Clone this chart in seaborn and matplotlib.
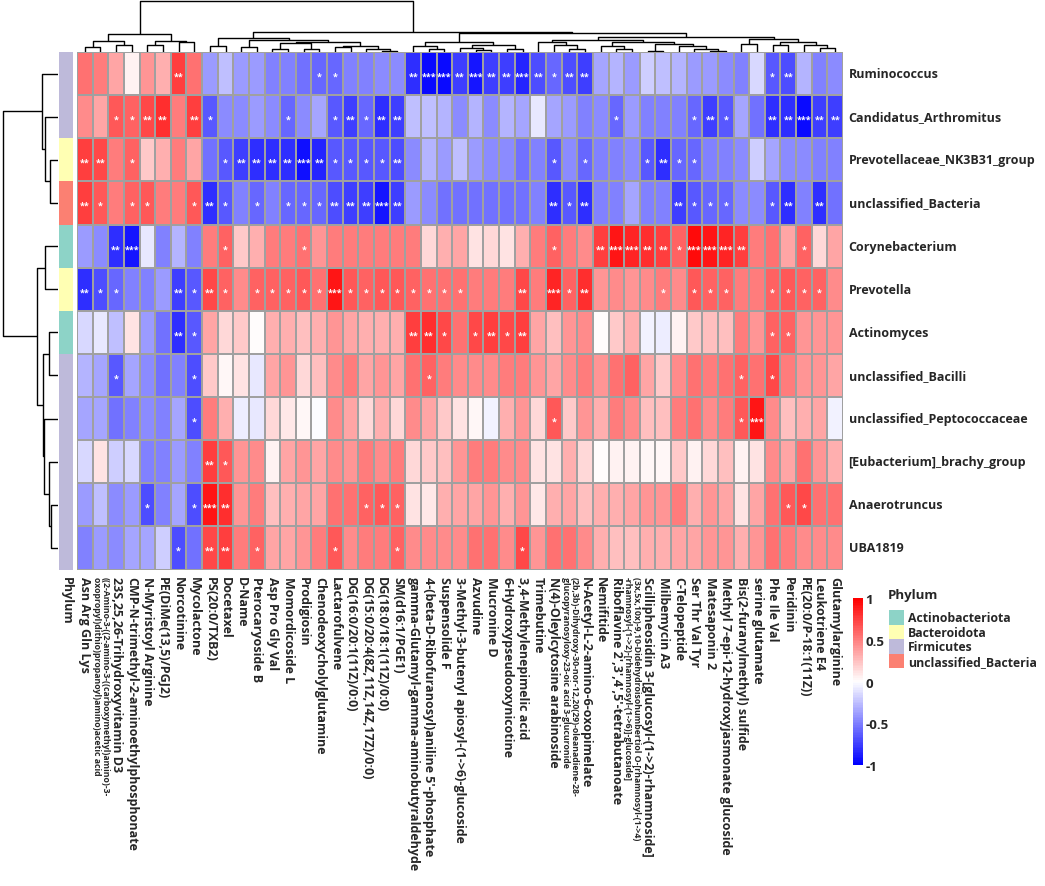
import numpy as np
import pandas as pd
import matplotlib
matplotlib.use("Agg")
import matplotlib.pyplot as plt
from matplotlib.colors import LinearSegmentedColormap, ListedColormap
from matplotlib.patches import Patch
import seaborn as sns

# -----------------------------
# DATA
# -----------------------------
row_names = ["Ruminococcus", "Candidatus_Arthromitus", "Prevotellaceae_NK3B31_group",
             "unclassified_Bacteria", "Corynebacterium", "Prevotella", "Actinomyces",
             "unclassified_Bacilli", "unclassified_Peptococcaceae",
             "[Eubacterium]_brachy_group", "Anaerotruncus", "UBA1819"]

col_names = [
    "Asn Arg Gln Lys",
    "((2-Amino-3-((2-amino-3-((carboxymethyl)amino)-3-\noxopropyl)dithio)propanoyl)amino)acetic acid",
    "23S,25,26-Trihydroxyvitamin D3",
    "CMP-N-trimethyl-2-aminoethylphosphonate",
    "N-Myristoyl Arginine",
    "PE(DiMe(13,5)/PGJ2)",
    "Norcotinine",
    "Mycolactone",
    "PS(20:0/TXB2)",
    "Docetaxel",
    "D-Name",
    "Pterocaryoside B",
    "Asp Pro Gly Val",
    "Momordicoside L",
    "Prodigiosin",
    "Chenodeoxycholylglutamine",
    "Lactarofulvene",
    "DG(16:0/20:1(11Z)/0:0)",
    "DG(15:0/20:4(8Z,11Z,14Z,17Z)/0:0)",
    "DG(18:0/18:1(11Z)/0:0)",
    "SM(d16:1/PGE1)",
    "gamma-Glutamyl-gamma-aminobutyraldehyde",
    "4-(beta-D-Ribofuranosyl)aniline 5'-phosphate",
    "Suspensolide F",
    "3-Methyl-3-butenyl apiosyl-(1->6)-glucoside",
    "Azvudine",
    "Mucronine D",
    "6-Hydroxypseudooxynicotine",
    "3,4-Methylenepimelic acid",
    "Trimebutine",
    "N(4)-Oleylcytosine arabinoside",
    "(2b,3b)-Dihydroxy-30-nor-12,20(29)-oleanadiene-28-\nglucopyranosyloxy-23-oic acid 3-glucuronide",
    "N-Acetyl-L-2-amino-6-oxopimelate",
    "Nemifitide",
    "Riboflavine 2',3',4',5'-tetrabutanoate",
    "(3x,5x,10x)-9,10-Didehydroisohumbertiol O-[rhamnosyl-(1->4)\n-rhamnosyl-(1->2)-[rhamnosyl-(1->6)]-glucoside]",
    "Scillipheosidin 3-[glucosyl-(1->2)-rhamnoside]",
    "Milbemycin A3",
    "C-Telopeptide",
    "Ser Thr Val Tyr",
    "Matesaponin 2",
    "Methyl 7-epi-12-hydroxyjasmonate glucoside",
    "Bis(2-furanylmethyl) sulfide",
    "serine glutamate",
    "Phe Ile Val",
    "Peridinin",
    "PE(20:0/P-18:1(11Z))",
    "Leukotriene E4",
    "Glutamylarginine",
]
small_labels = [1, 31, 35]

# correlation values, one list per genus (49 metabolites each)
ruminococcus = [0.55, 0.5, 0.35, 0.05, 0.4, 0.3, 0.75, 0.55,
                -0.4, -0.25, -0.4, -0.4, -0.5, -0.5, -0.55, -0.6, -0.6, -0.5, -0.5, -0.45, -0.45,
                -0.8, -0.95, -0.95, -0.75, -0.9, -0.75, -0.75, -0.85, -0.7, -0.6, -0.7, -0.75,
                -0.35, -0.3, -0.4, -0.2, -0.25, -0.3, -0.4, -0.4, -0.45, -0.5, -0.15, -0.65, -0.7, -0.3, -0.5, -0.45]
candidatus = [0.45, 0.35, 0.65, 0.6, 0.7, 0.8, 0.5, 0.75,
              -0.65, -0.45, -0.45, -0.4, -0.45, -0.6, -0.45, -0.35, -0.65, -0.75, -0.6, -0.8, -0.75,
              -0.25, -0.25, -0.3, -0.45, -0.3, -0.45, -0.3, -0.35, -0.1, -0.35, -0.4, -0.5,
              -0.45, -0.6, -0.4, -0.5, -0.5, -0.5, -0.6, -0.75, -0.65, -0.35, -0.55, -0.8, -0.8, -0.95, -0.75, -0.75]
prevotellaceae = [0.75, 0.7, 0.5, 0.6, 0.2, 0.3, 0.5, 0.35,
                  -0.55, -0.65, -0.75, -0.8, -0.8, -0.8, -0.92, -0.85, -0.65, -0.65, -0.65, -0.65, -0.7,
                  -0.45, -0.3, -0.4, -0.25, -0.4, -0.45, -0.45, -0.55, -0.5, -0.65, -0.45, -0.6,
                  -0.5, -0.5, -0.45, -0.65, -0.8, -0.6, -0.6, -0.5, -0.5, -0.45, -0.2, -0.35, -0.45, -0.45, -0.5, -0.5]
uncl_bacteria = [0.75, 0.65, 0.5, 0.6, 0.65, 0.5, 0.5, 0.65,
                 -0.8, -0.65, -0.5, -0.6, -0.5, -0.6, -0.6, -0.6, -0.7, -0.75, -0.75, -0.9, -0.75,
                 -0.4, -0.45, -0.55, -0.55, -0.55, -0.55, -0.55, -0.55, -0.5, -0.8, -0.65, -0.8,
                 -0.5, -0.5, -0.35, -0.5, -0.5, -0.75, -0.65, -0.6, -0.6, -0.45, -0.45, -0.65, -0.8, -0.5, -0.8, -0.55]
corynebacterium = [-0.4, -0.45, -0.8, -0.9, -0.1, -0.5, -0.3, -0.5,
                   0.5, 0.6, 0.2, 0.3, 0.5, 0.5, 0.55, 0.4, 0.5, 0.5, 0.5, 0.5, 0.5,
                   0.5, 0.15, 0.3, 0.35, 0.1, 0.15, 0.1, 0.3, 0.5, 0.6, 0.5, 0.45,
                   0.75, 0.9, 0.85, 0.8, 0.75, 0.6, 0.95, 0.9, 0.85, 0.75, 0.5, 0.55, 0.35, 0.6, 0.15, 0.35]
prevotella = [-0.8, -0.7, -0.6, -0.5, -0.5, -0.4, -0.75, -0.65,
              0.7, 0.6, 0.45, 0.6, 0.6, 0.6, 0.65, 0.55, 0.9, 0.65, 0.6, 0.65, 0.65,
              0.6, 0.55, 0.55, 0.55, 0.5, 0.5, 0.5, 0.7, 0.5, 0.85, 0.6, 0.8,
              0.4, 0.45, 0.4, 0.45, 0.5, 0.45, 0.65, 0.6, 0.6, 0.5, 0.5, 0.6, 0.65, 0.6, 0.6, 0.45]
actinomyces = [-0.15, -0.1, -0.25, 0.1, -0.4, -0.55, -0.8, -0.65,
               0.35, 0.15, 0.2, 0.0, 0.3, 0.3, 0.25, 0.3, 0.4, 0.35, 0.3, 0.3, 0.3,
               0.75, 0.8, 0.7, 0.55, 0.7, 0.75, 0.7, 0.75, 0.35, 0.25, 0.4, 0.45,
               0.0, 0.2, 0.3, -0.05, -0.08, 0.05, 0.2, 0.25, 0.25, 0.5, 0.4, 0.6, 0.6, 0.4, 0.4, 0.4]
uncl_bacilli = [-0.3, -0.35, -0.65, -0.35, -0.45, -0.55, -0.5, -0.7,
                0.2, 0.03, 0.1, -0.1, 0.35, 0.4, 0.15, 0.25, 0.45, 0.5, 0.35, 0.4, 0.35,
                0.55, 0.6, 0.5, 0.45, 0.45, 0.45, 0.5, 0.5, 0.4, 0.35, 0.45, 0.5,
                0.4, 0.55, 0.6, 0.35, 0.2, 0.45, 0.55, 0.5, 0.55, 0.6, 0.55, 0.7, 0.5, 0.4, 0.4, 0.35]
uncl_peptococcaceae = [-0.35, -0.35, -0.55, -0.5, -0.45, -0.5, -0.35, -0.7,
                       0.5, 0.3, -0.08, -0.1, 0.15, 0.08, 0.02, -0.02, 0.45, 0.35, 0.15, 0.3, 0.15,
                       0.45, 0.35, 0.2, 0.1, 0.02, -0.05, 0.3, 0.4, 0.15, 0.65, 0.2, 0.4,
                       0.3, 0.5, 0.45, 0.25, 0.25, 0.5, 0.55, 0.45, 0.5, 0.65, 0.9, 0.45, 0.25, 0.3, 0.35, -0.05]
eubacterium = [-0.15, 0.1, -0.2, -0.15, -0.5, -0.5, -0.4, -0.5,
               0.75, 0.65, 0.4, 0.45, 0.05, 0.35, 0.4, 0.35, 0.45, 0.4, 0.5, 0.45, 0.5,
               0.15, 0.2, 0.25, 0.4, 0.5, 0.5, 0.45, 0.45, 0.1, 0.1, 0.3, 0.15,
               0.0, 0.05, 0.05, 0.03, 0.02, 0.2, 0.05, 0.15, 0.25, 0.05, 0.1, 0.45, 0.35, 0.55, 0.4, 0.3]
anaerotruncus = [-0.4, -0.25, -0.45, -0.4, -0.7, -0.5, -0.35, -0.7,
                 0.9, 0.8, 0.4, 0.5, 0.25, 0.3, 0.35, 0.35, 0.55, 0.55, 0.6, 0.65, 0.6,
                 0.1, 0.08, 0.3, 0.35, 0.35, 0.4, 0.3, 0.4, 0.08, 0.3, 0.35, 0.25,
                 0.3, 0.3, 0.35, 0.4, 0.4, 0.5, 0.3, 0.4, 0.35, 0.1, 0.35, 0.55, 0.65, 0.7, 0.55, 0.55]
uba1819 = [-0.5, -0.4, -0.45, -0.35, -0.35, -0.2, -0.7, -0.55,
           0.7, 0.75, 0.5, 0.6, 0.35, 0.35, 0.4, 0.5, 0.65, 0.45, 0.5, 0.5, 0.6,
           0.45, 0.45, 0.45, 0.45, 0.55, 0.55, 0.45, 0.7, 0.4, 0.55, 0.55, 0.45,
           0.3, 0.25, 0.25, 0.3, 0.3, 0.35, 0.35, 0.4, 0.4, 0.3, 0.4, 0.55, 0.5, 0.45, 0.45, 0.45]

# significance level per cell (column index -> number of stars)
ruminococcus_sig = {6: 2, 15: 1, 16: 1, 21: 2, 22: 3, 23: 3, 24: 2, 25: 3, 26: 2, 27: 2, 28: 3,
                    29: 2, 30: 1, 31: 2, 32: 2, 44: 1, 45: 2}
candidatus_sig = {2: 1, 3: 1, 4: 2, 5: 2, 7: 2, 8: 1, 13: 1, 16: 1, 17: 2, 18: 1, 19: 2, 20: 2,
                  34: 1, 39: 1, 40: 2, 41: 1, 44: 2, 45: 2, 46: 3, 47: 2, 48: 2}
prevotellaceae_sig = {0: 2, 1: 2, 3: 1, 9: 1, 10: 2, 11: 2, 12: 2, 13: 2, 14: 3, 15: 2, 16: 1,
                      17: 1, 18: 1, 19: 1, 20: 2, 30: 1, 32: 1, 36: 1, 37: 2, 38: 1, 39: 1}
uncl_bacteria_sig = {0: 2, 1: 1, 3: 1, 4: 1, 7: 1, 8: 2, 9: 1, 11: 1, 13: 1, 14: 1, 15: 1, 16: 2,
                     17: 2, 18: 2, 19: 3, 20: 2, 30: 2, 31: 1, 32: 2, 38: 2, 39: 1, 40: 1, 41: 1,
                     44: 1, 45: 2, 47: 2}
corynebacterium_sig = {2: 2, 3: 3, 9: 1, 14: 1, 30: 1, 33: 2, 34: 3, 35: 3, 36: 2, 37: 2, 38: 1,
                       39: 3, 40: 3, 41: 3, 42: 2, 46: 1}
prevotella_sig = {0: 2, 1: 1, 2: 1, 6: 2, 7: 1, 8: 2, 9: 1, 11: 1, 12: 1, 13: 1, 14: 1, 15: 1,
                  16: 3, 17: 1, 18: 1, 19: 1, 20: 1, 21: 1, 22: 1, 23: 1, 24: 1, 28: 2, 30: 3,
                  31: 1, 32: 2, 37: 1, 39: 1, 40: 1, 41: 1, 44: 1, 45: 1, 46: 1, 47: 1}
actinomyces_sig = {6: 2, 7: 1, 21: 2, 22: 2, 23: 1, 25: 1, 26: 2, 27: 1, 28: 2, 44: 1, 45: 1}
uncl_bacilli_sig = {2: 1, 7: 1, 22: 1, 42: 1, 44: 1}
uncl_peptococcaceae_sig = {7: 1, 30: 1, 42: 1, 43: 3}
eubacterium_sig = {8: 2, 9: 1}
anaerotruncus_sig = {4: 1, 7: 1, 8: 3, 9: 2, 18: 1, 19: 1, 20: 1, 45: 1, 46: 1}
uba1819_sig = {6: 1, 8: 2, 9: 2, 11: 1, 16: 1, 20: 1, 28: 1}

row_phylum = ["Firmicutes", "Firmicutes", "Bacteroidota", "unclassified_Bacteria",
              "Actinobacteriota", "Bacteroidota", "Actinobacteriota", "Firmicutes",
              "Firmicutes", "Firmicutes", "Firmicutes", "Firmicutes"]
phylum_levels = ["Actinobacteriota", "Bacteroidota", "Firmicutes", "unclassified_Bacteria"]
phylum_colors = ["#8DD3C7", "#FFFFB3", "#BEBADA", "#FB8072"]

# dendrograms as [merge height, left, right]; leaves are row/column indices
row_tree = [55.3,
            [16, 0, [13, 1, [8, 2, 3]]],
            [21, [13, 4, 5], [15, [8.7, 6, 7], [13.7, 8, [9, 9, [7, 10, 11]]]]]]
col_tree = [50.7,
            [18, [10.7, [5.3, 0, 1], [7.3, 2, 3]], [11.3, [7.3, 4, 5], [9.7, 6, 7]]],
            [20,
             [14, [6.3, 8, 9],
              [12.3, [5, 10, 11],
               [10.5, [9, [3, 12, 13], [3, 14, 15]],
                [6.5, [5.5, 16, 17], [3, 18, [1.5, 19, 20]]]]]],
             [19,
              [10, [5.7, 21, [3.3, 22, 23]], [6.7, [4.5, 24, [2.5, 25, 26]], [3.5, 27, 28]]],
              [15.5,
               [12.3, [10, 29, [7, 30, [3.5, 31, 32]]],
                [9.7, [6, 33, [3, 34, 35]],
                 [8.5, [1.5, 36, 37], [6.5, 38, [3, 39, [1.5, 40, 41]]]]]],
               [13.5, [8, 42, 43], [9.7, [7, 44, 45], [7, 46, [4.5, 47, 48]]]]]]]]

# -----------------------------
# SETUP
# -----------------------------
sns.set_style("white")
plt.rcParams["font.family"] = ["Open Sans", "DejaVu Sans"]
plt.rcParams["font.weight"] = "bold"

values = [ruminococcus, candidatus, prevotellaceae, uncl_bacteria, corynebacterium, prevotella,
          actinomyces, uncl_bacilli, uncl_peptococcaceae, eubacterium, anaerotruncus, uba1819]
sigs = [ruminococcus_sig, candidatus_sig, prevotellaceae_sig, uncl_bacteria_sig,
        corynebacterium_sig, prevotella_sig, actinomyces_sig, uncl_bacilli_sig,
        uncl_peptococcaceae_sig, eubacterium_sig, anaerotruncus_sig, uba1819_sig]

df = pd.DataFrame(values, index=row_names, columns=col_names)
annot = np.array([["*" * s.get(j, 0) for j in range(len(col_names))] for s in sigs])

W, H = 1045, 887
fig = plt.figure(figsize=(W / 100, H / 100), dpi=100)


def box(x0, y0, x1, y1):
    return [x0 / W, 1 - y1 / H, (x1 - x0) / W, (y1 - y0) / H]


ax_hm = fig.add_axes(box(77, 53, 843, 570.5))
ax_col = fig.add_axes(box(77, 0, 843, 53))
ax_row = fig.add_axes(box(0, 53, 58, 570.5))
ax_phy = fig.add_axes(box(59, 53, 73, 570.5))
ax_cb = fig.add_axes(box(852.5, 599, 862.5, 766))

# -----------------------------
# HEATMAP
# -----------------------------
cmap = LinearSegmentedColormap.from_list("bwr3", ["#0000FF", "#FFFFFF", "#FF0000"], N=100)
sns.heatmap(df, ax=ax_hm, cmap=cmap, vmin=-1, vmax=1, linewidths=1.3, linecolor="#a0a0a0",
            annot=annot, fmt="", annot_kws={"color": "white", "fontsize": 6.5, "fontweight": "bold"},
            cbar_ax=ax_cb, xticklabels=True, yticklabels=True)
for t in ax_hm.texts:
    x, y = t.get_position()
    t.set_position((x, y + 0.06))

ax_hm.yaxis.tick_right()
ax_hm.set_yticklabels(row_names, rotation=0, fontsize=9, fontweight="bold", ha="left", va="center")
ax_hm.set_xticklabels(col_names, rotation=270, fontsize=9, fontweight="bold", ha="center", va="top",
                      multialignment="left")
for i in small_labels:
    lab = ax_hm.get_xticklabels()[i]
    lab.set_fontsize(6.3)
    lab.set_linespacing(0.95)
ax_hm.tick_params(axis="both", length=0)
ax_hm.tick_params(axis="x", pad=5)
ax_hm.tick_params(axis="y", pad=4)
ax_hm.set_xlabel("")
ax_hm.set_ylabel("")

# colorbar
cb = ax_hm.collections[0].colorbar
cb.set_ticks([-1, -0.5, 0, 0.5, 1])
cb.set_ticklabels(["-1", "-0.5", "0", "0.5", "1"])
cb.outline.set_visible(False)
ax_cb.tick_params(length=0, labelsize=9.5, pad=2)

# -----------------------------
# PHYLUM ANNOTATION BAR
# -----------------------------
codes = np.array([[phylum_levels.index(p)] for p in row_phylum])
sns.heatmap(codes, ax=ax_phy, cmap=ListedColormap(phylum_colors), vmin=-0.5, vmax=3.5,
            cbar=False, xticklabels=["Phylum"], yticklabels=False)
ax_phy.set_xticklabels(["Phylum"], rotation=270, fontsize=9, fontweight="bold", ha="center", va="top")
ax_phy.tick_params(axis="both", length=0)
ax_phy.tick_params(axis="x", pad=5)


# -----------------------------
# DENDROGRAMS
# -----------------------------
def draw_tree(ax, node, horizontal):
    if isinstance(node, int):
        return node + 0.5, 0.0
    h, a, b = node
    pa, ha = draw_tree(ax, a, horizontal)
    pb, hb = draw_tree(ax, b, horizontal)
    pos = [pa, pa, pb, pb]
    hts = [ha, h, h, hb]
    if horizontal:
        ax.plot(hts, pos, color="black", lw=1.0, solid_capstyle="butt")
    else:
        ax.plot(pos, hts, color="black", lw=1.0, solid_capstyle="butt")
    return (pa + pb) / 2, h


draw_tree(ax_col, col_tree, horizontal=False)
ax_col.set_xlim(0, len(col_names))
ax_col.set_ylim(0, 53)
ax_col.axis("off")

draw_tree(ax_row, row_tree, horizontal=True)
ax_row.set_ylim(len(row_names), 0)
ax_row.set_xlim(58, 0)
ax_row.axis("off")

# -----------------------------
# LEGEND
# -----------------------------
fig.text(888 / W, 1 - 596 / H, "Phylum", fontsize=9.5, fontweight="bold", ha="left", va="center")
handles = [Patch(facecolor=c, edgecolor="none", label=l) for l, c in zip(phylum_levels, phylum_colors)]
fig.legend(handles=handles, loc="upper left", bbox_to_anchor=(889 / W, 1 - 611 / H),
           frameon=False, prop={"size": 8.8, "weight": "bold"},
           handlelength=1.25, handleheight=1.45, handletextpad=0.3, labelspacing=0.0,
           borderaxespad=0, borderpad=0)

fig.savefig("out.png", dpi=100)
plt.close(fig)
